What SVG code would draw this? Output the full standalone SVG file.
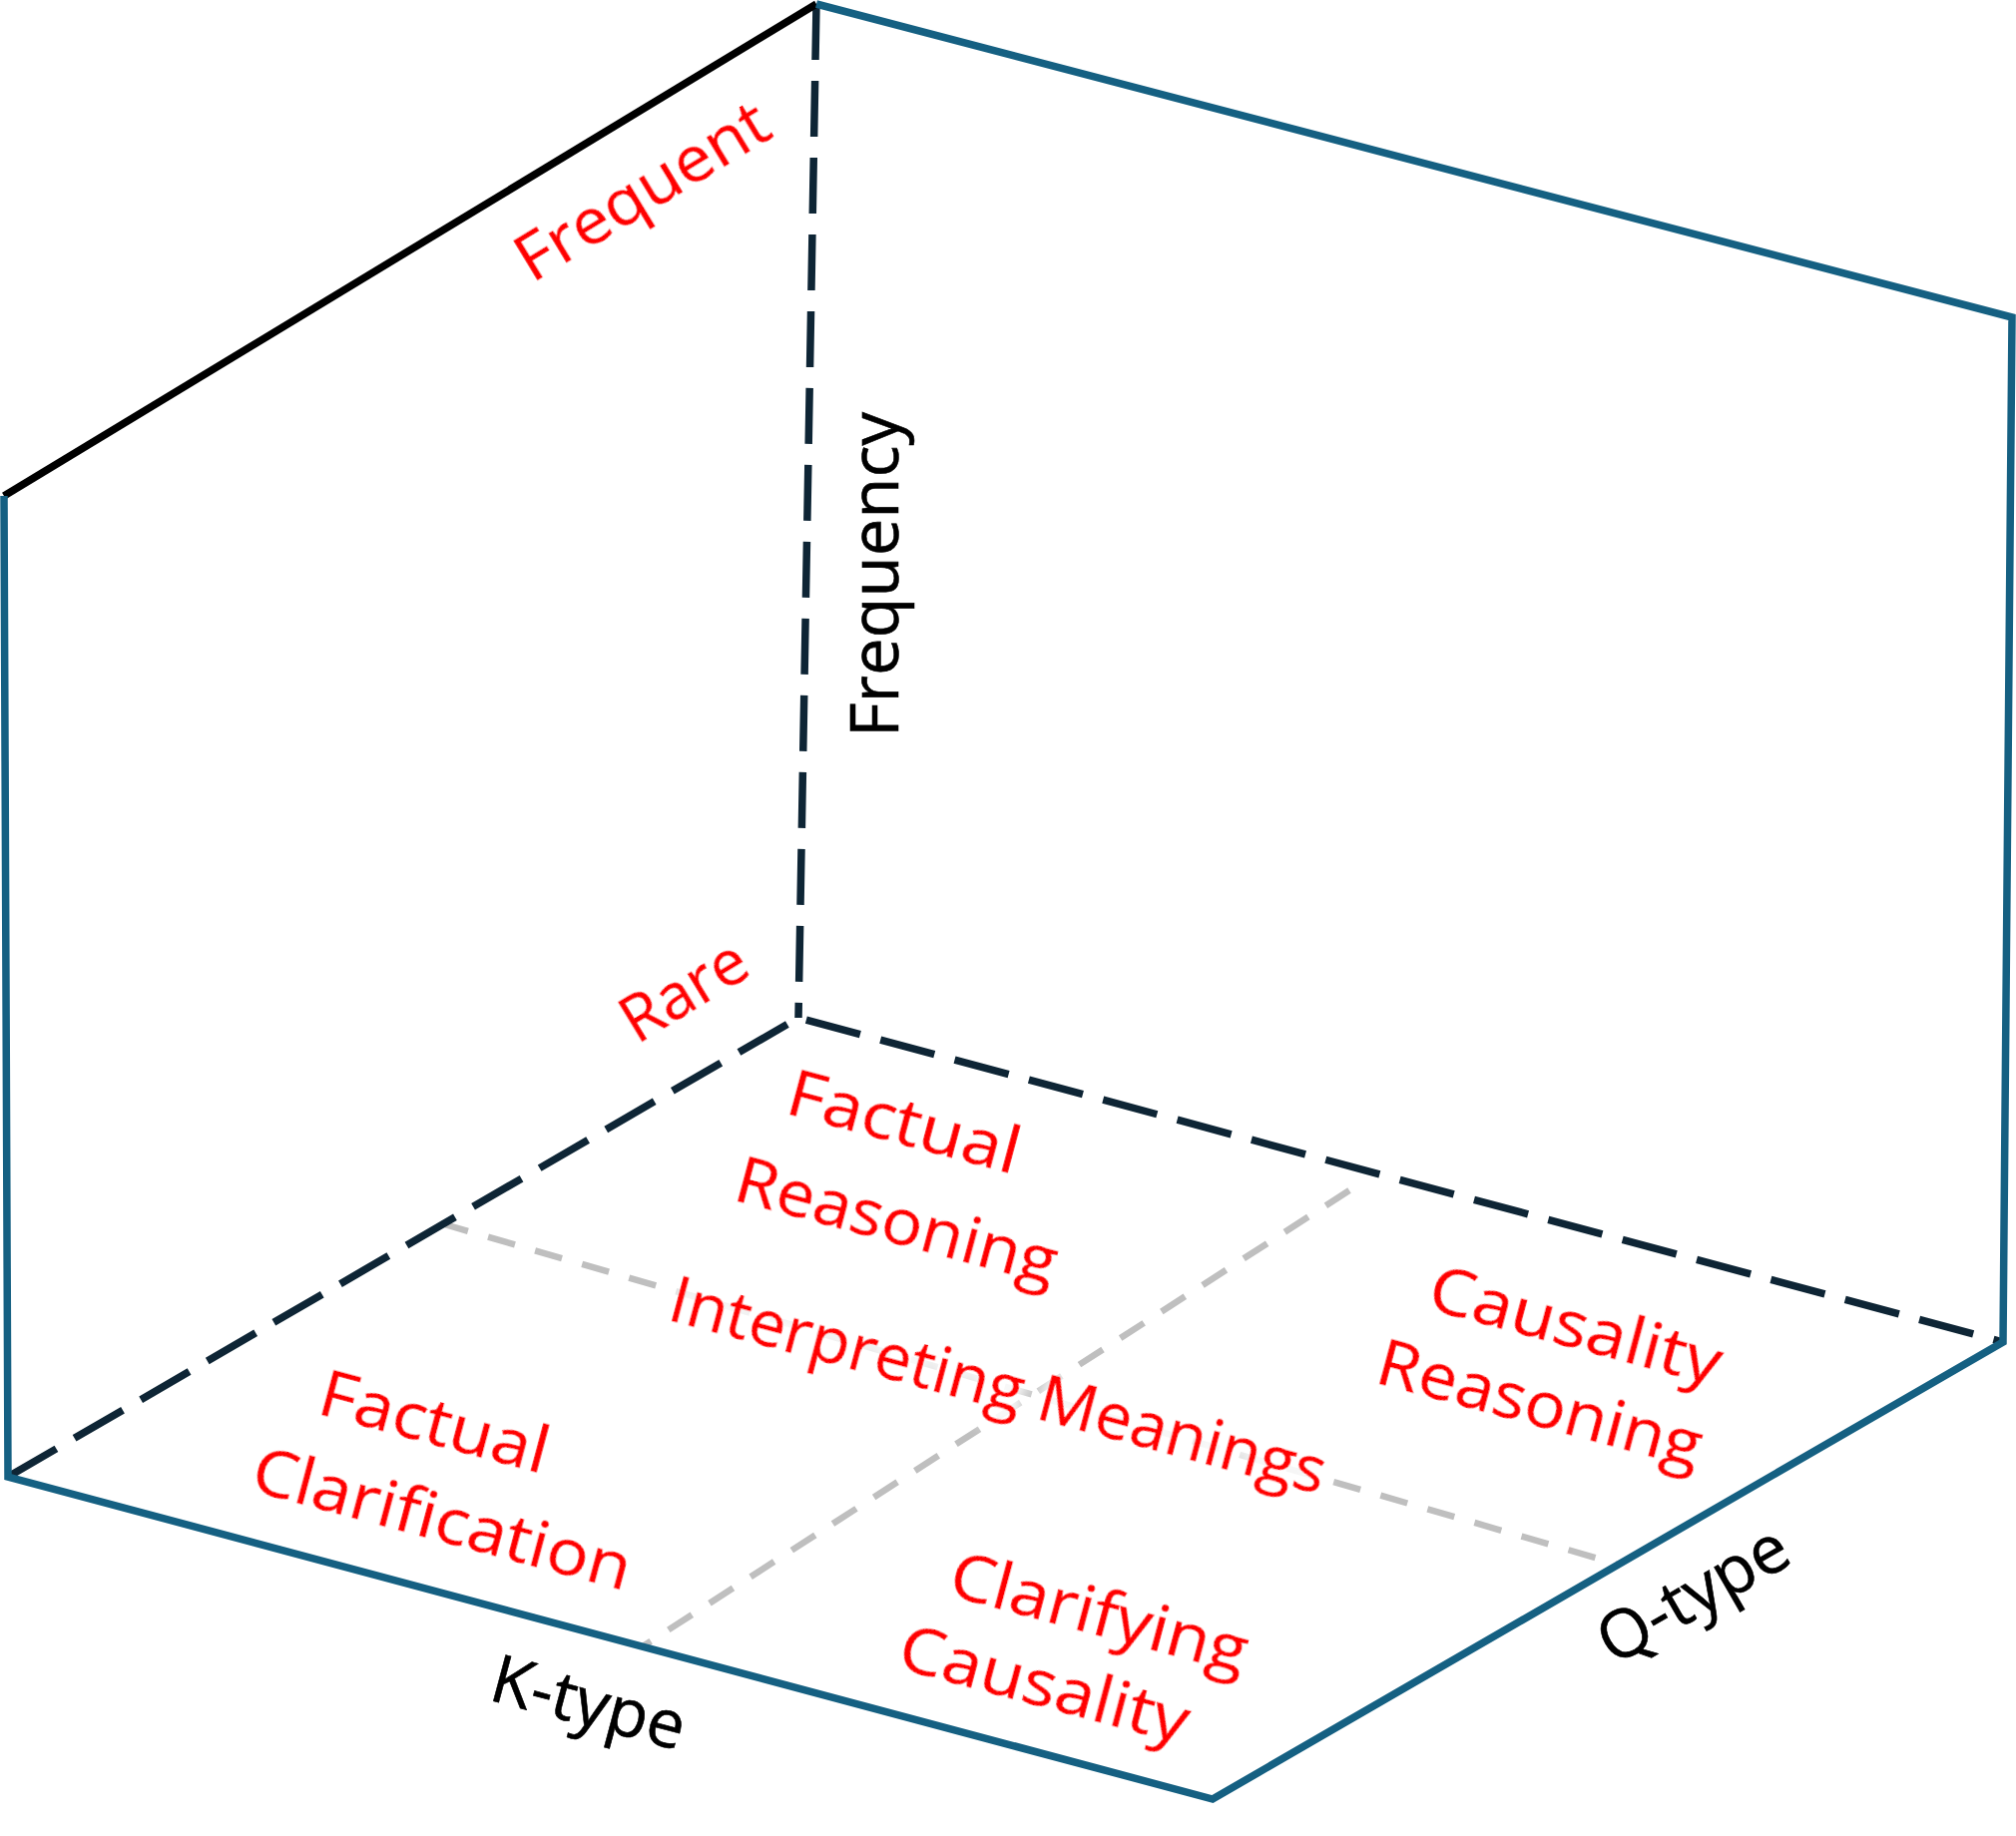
<svg xmlns="http://www.w3.org/2000/svg" width="2020" height="1840" viewBox="0 0 2020 1840">
<style>
.frame{fill:none;stroke:#156082;stroke-width:7.5;stroke-linejoin:miter}
.edge{fill:none;stroke:#000;stroke-width:7.5}
.dash{fill:none;stroke:#0e2535;stroke-width:7.5;stroke-dasharray:56 21}
.grid{fill:none;stroke:#bfbfbf;stroke-width:6.5;stroke-dasharray:28 21}
.red{font-family:"Open Sans","Liberation Sans",sans-serif;font-size:64px;fill:#ff0000;stroke:#ff0000;stroke-width:0.8;filter:url(#glow)}
.axis{font-family:"Open Sans","Liberation Sans",sans-serif;font-size:67px;fill:#000;stroke:#000;stroke-width:0.6}
</style>
<defs>
<filter id="glow" x="-20%" y="-60%" width="140%" height="220%">
<feMorphology in="SourceAlpha" operator="dilate" radius="5" result="d"/>
<feGaussianBlur in="d" stdDeviation="7" result="b"/>
<feFlood flood-color="#ffffff" flood-opacity="0.9"/>
<feComposite in2="b" operator="in" result="g"/>
<feMerge><feMergeNode in="g"/><feMergeNode in="SourceGraphic"/></feMerge>
</filter>
</defs>
<rect width="2020" height="1840" fill="#fff"/>
<g id="connectors">
<path class="grid" d="M442,1226 L1619,1567"/>
<path class="grid" d="M1352,1193 L644,1650"/>
<path class="dash" d="M818,4 L800,1020"/>
<path class="dash" d="M8,1480 L800,1020 L2007,1345"/>
<path class="edge" d="M4,497 L818,4"/>
<path class="frame" d="M818,4 L2016,318 L2007,1345 L1215,1803 L8,1480 L4,497"/>
</g>
<g id="frequent"><text class="red" transform="translate(533,284) rotate(-31.3) scale(1.05,1)">Frequent</text></g>
<g id="rare"><text class="red" transform="translate(638,1047) rotate(-31.3)">Rare</text></g>
<g id="frequency"><text class="axis" transform="translate(900,739) rotate(-90)">Frequency</text></g>
<g id="factual-reasoning">
<text class="red" transform="translate(785,1115) rotate(15) scale(1.12,1)">Factual</text>
<text class="red" transform="translate(733,1202) rotate(15) scale(1.07,1)">Reasoning</text>
</g>
<g id="interpreting-meanings"><text class="red" transform="translate(667,1322) rotate(15) scale(1.025,1)">Interpreting Meanings</text></g>
<g id="causality-reasoning">
<text class="red" transform="translate(1428,1311) rotate(15) scale(1.12,1)">Causality</text>
<text class="red" transform="translate(1376,1385) rotate(15) scale(1.08,1)">Reasoning</text>
</g>
<g id="factual-clarification">
<text class="red" transform="translate(316,1416) rotate(15) scale(1.105,1)">Factual</text>
<text class="red" transform="translate(249,1493) rotate(15) scale(1.1,1)">Clarification</text>
</g>
<g id="clarifying-causality">
<text class="red" transform="translate(948,1598) rotate(15) scale(1.1,1)">Clarifying</text>
<text class="red" transform="translate(897,1671) rotate(15) scale(1.11,1)">Causality</text>
</g>
<g id="k-type"><text class="axis" transform="translate(488,1703) rotate(15)">K-type</text></g>
<g id="q-type"><text class="axis" transform="translate(1617,1670) rotate(-30)">Q-type</text></g>
</svg>
